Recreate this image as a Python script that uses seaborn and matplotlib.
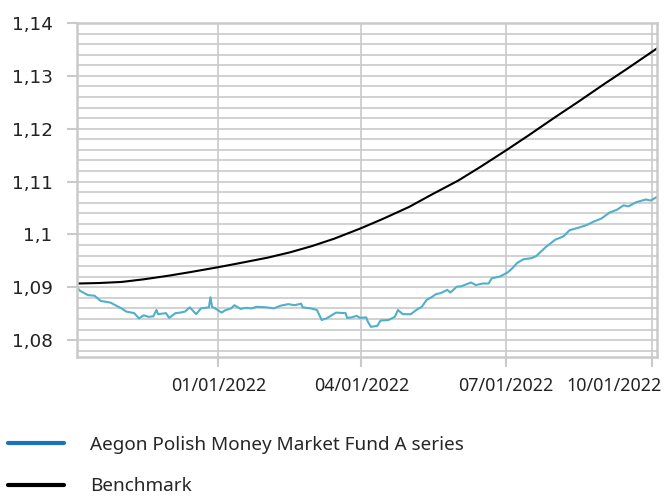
import pandas as pd
import matplotlib
matplotlib.use('Agg')
import matplotlib.pyplot as plt
import matplotlib.dates as mdates
import matplotlib.transforms as mtransforms
from matplotlib.lines import Line2D
from matplotlib.ticker import MultipleLocator, FuncFormatter
import seaborn as sns

# Fund (A series) values
fund_dates = [
    '2021-10-04', '2021-10-06', '2021-10-11', '2021-10-15', '2021-10-19', '2021-10-25',
    '2021-11-01', '2021-11-04', '2021-11-09', '2021-11-12', '2021-11-15', '2021-11-18',
    '2021-11-21', '2021-11-23', '2021-11-24', '2021-11-29', '2021-12-01', '2021-12-05',
    '2021-12-08', '2021-12-11', '2021-12-14', '2021-12-18', '2021-12-21', '2021-12-26',
    '2021-12-27', '2021-12-28', '2021-12-31', '2022-01-03', '2022-01-05', '2022-01-09',
    '2022-01-11', '2022-01-15', '2022-01-18', '2022-01-22', '2022-01-25', '2022-01-31',
    '2022-02-05', '2022-02-09', '2022-02-14', '2022-02-18', '2022-02-22', '2022-02-23',
    '2022-02-28', '2022-03-04', '2022-03-07', '2022-03-10', '2022-03-16', '2022-03-22',
    '2022-03-23', '2022-03-26', '2022-03-29', '2022-03-31', '2022-04-04', '2022-04-05',
    '2022-04-07', '2022-04-11', '2022-04-13', '2022-04-18', '2022-04-22', '2022-04-24',
    '2022-04-27', '2022-05-02', '2022-05-06', '2022-05-09', '2022-05-12', '2022-05-15',
    '2022-05-18', '2022-05-21', '2022-05-25', '2022-05-27', '2022-05-31', '2022-06-03',
    '2022-06-09', '2022-06-12', '2022-06-16', '2022-06-20', '2022-06-22', '2022-06-27',
    '2022-07-02', '2022-07-05', '2022-07-08', '2022-07-12', '2022-07-17', '2022-07-20',
    '2022-07-26', '2022-08-01', '2022-08-06', '2022-08-10', '2022-08-16', '2022-08-21',
    '2022-08-25', '2022-08-30', '2022-09-04', '2022-09-09', '2022-09-13', '2022-09-16',
    '2022-09-21', '2022-09-27', '2022-09-30', '2022-10-04',
]
fund_values = [
    1.0900, 1.0893, 1.0885, 1.0884, 1.0874, 1.0871,
    1.0860, 1.0854, 1.0851, 1.0841, 1.0847, 1.0844,
    1.0845, 1.0857, 1.0849, 1.0851, 1.0842, 1.0851,
    1.0852, 1.0854, 1.0862, 1.0849, 1.0860, 1.0862,
    1.0881, 1.0863, 1.0858, 1.0852, 1.0856, 1.0860,
    1.0866, 1.0859, 1.0861, 1.0860, 1.0863, 1.0862,
    1.0860, 1.0865, 1.0868, 1.0866, 1.0869, 1.0862,
    1.0860, 1.0857, 1.0838, 1.0841, 1.0852, 1.0851,
    1.0842, 1.0843, 1.0846, 1.0842, 1.0843, 1.0835,
    1.0825, 1.0827, 1.0837, 1.0838, 1.0844, 1.0857,
    1.0849, 1.0849, 1.0858, 1.0863, 1.0876, 1.0881,
    1.0887, 1.0889, 1.0895, 1.0890, 1.0901, 1.0902,
    1.0909, 1.0904, 1.0907, 1.0907, 1.0917, 1.0920,
    1.0928, 1.0936, 1.0946, 1.0953, 1.0955, 1.0959,
    1.0976, 1.0990, 1.0996, 1.1008, 1.1013, 1.1018,
    1.1024, 1.1030, 1.1041, 1.1047, 1.1055, 1.1053,
    1.1061, 1.1066, 1.1064, 1.1071,
]

# Benchmark values (smooth curve)
bench_dates = [
    '2021-10-04', '2021-10-18', '2021-11-01', '2021-11-15', '2021-12-01', '2021-12-15',
    '2022-01-01', '2022-01-15', '2022-02-01', '2022-02-15', '2022-03-01', '2022-03-15',
    '2022-04-01', '2022-04-15', '2022-05-01', '2022-05-15', '2022-06-01', '2022-06-15',
    '2022-07-01', '2022-07-15', '2022-08-01', '2022-08-15', '2022-09-01', '2022-09-15',
    '2022-10-04',
]
bench_values = [
    1.0907, 1.0908, 1.0910, 1.0915, 1.0922, 1.0929,
    1.0938, 1.0946, 1.0956, 1.0966, 1.0978, 1.0992,
    1.1012, 1.1030, 1.1052, 1.1075, 1.1102, 1.1128,
    1.1159, 1.1187, 1.1222, 1.1250, 1.1285, 1.1313,
    1.1352,
]

tick_dates = ['2022-01-01', '2022-04-01', '2022-07-01', '2022-10-01']
series_labels = ['Aegon Polish Money Market Fund A series', 'Benchmark']

fund = pd.DataFrame({'date': pd.to_datetime(fund_dates), 'value': fund_values})
bench = pd.DataFrame({'date': pd.to_datetime(bench_dates), 'value': bench_values})

sns.set_style('white')
grey = '#cacaca'

fig = plt.figure(figsize=(6.66, 4.96), dpi=100)
ax = fig.add_axes([77 / 666, 1 - 357 / 496, 580 / 666, 334 / 496])

sns.lineplot(data=fund, x='date', y='value', ax=ax, color='#4eb0c9', linewidth=1.5)
sns.lineplot(data=bench, x='date', y='value', ax=ax, color='black', linewidth=1.5)

ax.set_xlim(pd.Timestamp('2021-10-04'), pd.Timestamp('2022-10-04'))
ax.set_ylim(1.0768, 1.14)
ax.set_xlabel('')
ax.set_ylabel('')

# y axis: major every 0.01, grid lines every 0.002
ax.yaxis.set_major_locator(MultipleLocator(0.01))
ax.yaxis.set_minor_locator(MultipleLocator(0.002))
ax.yaxis.set_major_formatter(FuncFormatter(lambda v, p: f'{v:.2f}'.rstrip('0').replace('.', ',')))
ax.grid(which='both', axis='y', color=grey, linewidth=1.2)

# x axis
ax.set_xticks(pd.to_datetime(tick_dates))
ax.xaxis.set_major_formatter(mdates.DateFormatter('%m/%d/%Y'))
ax.grid(which='major', axis='x', color=grey, linewidth=1.2)

ax.tick_params(axis='y', which='major', length=7.5, width=1.5, color=grey, pad=10,
               labelsize=13.2, labelcolor='#222222', left=True)
ax.tick_params(axis='y', which='minor', length=0)
ax.tick_params(axis='x', which='major', length=7.5, width=1.5, color=grey, pad=7,
               labelsize=12.9, labelcolor='#222222', bottom=True)
for lbl in ax.get_xticklabels():
    lbl.set_fontfamily('Noto Sans')
# last date label is pulled inside the figure
last = ax.get_xticklabels()[-1]
last.set_transform(last.get_transform() + mtransforms.ScaledTranslation(-38 / 100, 0, fig.dpi_scale_trans))

for side in ['left', 'right', 'top', 'bottom']:
    ax.spines[side].set_visible(True)
    ax.spines[side].set_color(grey)
    ax.spines[side].set_linewidth(1.8)

handles = [Line2D([], [], color='#1a72bd', linewidth=3),
           Line2D([], [], color='black', linewidth=3)]
fig.legend(handles, series_labels, loc='upper left', bbox_to_anchor=(0.0, 1 - 428 / 496),
           frameon=False, prop={'family': 'Noto Sans', 'size': 13.6},
           handlelength=3.0, handletextpad=1.35, labelspacing=1.25, borderaxespad=0)

fig.savefig('out.png', dpi=100)
